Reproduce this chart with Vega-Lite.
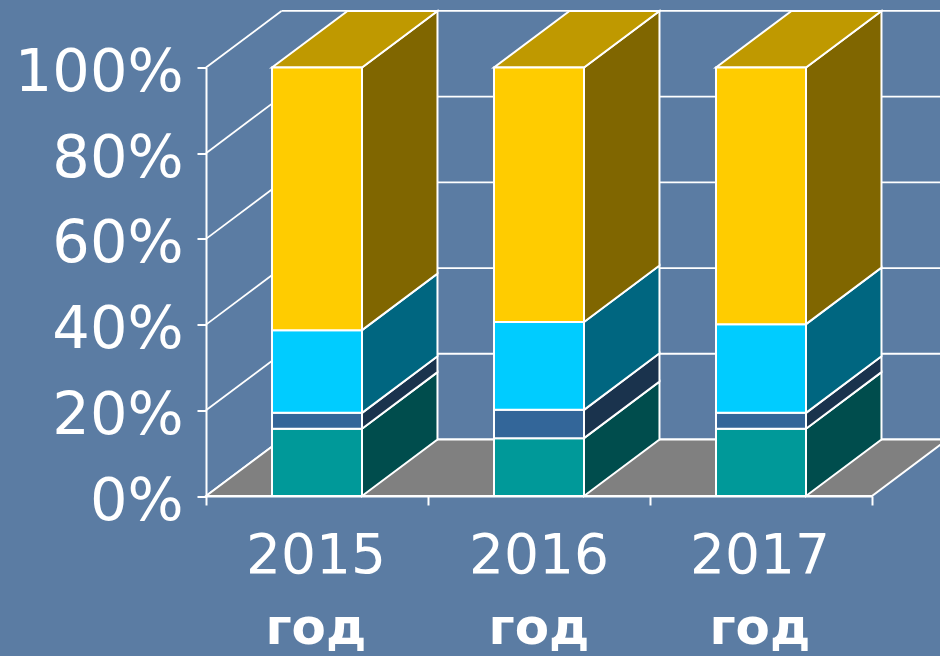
{
"$schema":"https://vega.github.io/schema/vega-lite/v6.json",
"width":666,"height":428.5,
"autosize":{"type":"none"},
"padding":{"left":206,"top":67.5,"right":68,"bottom":160},
"background":"#5b7ca3",
"view":{"stroke":null},
"config":{"font":"DejaVu Sans"},
"datasets":{
"rows":[
{"year":2015,"series":"s1","value":15.7},{"year":2015,"series":"s2","value":3.7},{"year":2015,"series":"s3","value":19.3},{"year":2015,"series":"s4","value":61.3},
{"year":2016,"series":"s1","value":13.5},{"year":2016,"series":"s2","value":6.6},{"year":2016,"series":"s3","value":20.5},{"year":2016,"series":"s4","value":59.4},
{"year":2017,"series":"s1","value":15.7},{"year":2017,"series":"s2","value":3.7},{"year":2017,"series":"s3","value":20.7},{"year":2017,"series":"s4","value":59.9}
],
"grid":[{"v":0},{"v":20},{"v":40},{"v":60},{"v":80},{"v":100}],
"depth":[{"t":0},{"t":1}],
"years":[{"year":2015,"pos":0.495},{"year":2016,"pos":1.5},{"year":2017,"pos":2.495}]
},
"resolve":{"scale":{"fill":"independent"}},
"layer":[
{"data":{"name":"grid"},
"transform":[{"calculate":"datum.v+13.2","as":"b"},{"calculate":"0.34","as":"xb"},{"calculate":"3.34","as":"xe"}],
"mark":{"type":"rule","stroke":"white","strokeWidth":1.8},
"encoding":{
"x":{"field":"xb","type":"quantitative","scale":{"domain":[0,3],"nice":false,"zero":false},"axis":{"values":[0,1,2,3],"labels":false,"title":null,"grid":false,"domainColor":"white","domainWidth":2,"tickColor":"white","tickWidth":2,"tickSize":9,"zindex":1}},
"x2":{"field":"xe"},
"y":{"field":"b","type":"quantitative","scale":{"domain":[0,100],"nice":false,"zero":false},"axis":{"values":[0,20,40,60,80,100],"labelExpr":"datum.value+'%'","title":null,"grid":false,"domainColor":"white","domainWidth":2,"tickColor":"white","tickWidth":2,"tickSize":9,"labelColor":"white","labelFontSize":59,"labelPadding":14,"labelFont":"DejaVu Sans","labelBaseline":"middle","labelOffset":5}}
}},
{"data":{"name":"grid"},
"transform":[{"calculate":"datum.v+13.2","as":"b"},{"calculate":"0","as":"xa"},{"calculate":"0.34","as":"xb"}],
"mark":{"type":"rule","stroke":"white","strokeWidth":1.8},
"encoding":{
"x":{"field":"xa","type":"quantitative"},"x2":{"field":"xb"},
"y":{"field":"v","type":"quantitative"},"y2":{"field":"b"}
}},
{"data":{"name":"depth"},
"transform":[{"calculate":"datum.t*0.34","as":"xa"},{"calculate":"3+datum.t*0.34","as":"xb"},{"calculate":"datum.t*13.2","as":"yy"}],
"mark":{"type":"area","orient":"horizontal","fill":"#808080","stroke":"white","strokeWidth":2},
"encoding":{
"x":{"field":"xa","type":"quantitative"},"x2":{"field":"xb"},
"y":{"field":"yy","type":"quantitative"}
}},
{"data":{"name":"rows"},
"transform":[
{"stack":"value","groupby":["year"],"sort":[{"field":"series","order":"ascending"}],"as":["start","end"]},
{"calculate":"[0,1]","as":"t"},{"flatten":["t"]},
{"calculate":"datum.year-2015+0.5+0.2027+datum.t*0.34","as":"xs"},
{"calculate":"datum.start+datum.t*13.2","as":"ya"},
{"calculate":"datum.end+datum.t*13.2","as":"yb"}
],
"mark":{"type":"area","orient":"vertical","stroke":"white","strokeWidth":2},
"encoding":{
"x":{"field":"xs","type":"quantitative"},
"y":{"field":"ya","type":"quantitative"},"y2":{"field":"yb"},
"detail":{"field":"year"},
"fill":{"field":"series","type":"nominal","legend":null,"scale":{"domain":["s1","s2","s3","s4"],"range":["#004d4d","#1a334d","#006680","#806600"]}}
}},
{"data":{"name":"rows"},
"transform":[
{"stack":"value","groupby":["year"],"sort":[{"field":"series","order":"ascending"}],"as":["start","end"]},
{"filter":"datum.series=='s4'"},
{"calculate":"[0,1]","as":"t"},{"flatten":["t"]},
{"calculate":"datum.year-2015+0.5-0.2027+datum.t*0.34","as":"xa"},
{"calculate":"datum.year-2015+0.5+0.2027+datum.t*0.34","as":"xb"},
{"calculate":"datum.end+datum.t*13.2","as":"yy"}
],
"mark":{"type":"area","orient":"horizontal","fill":"#bf9900","stroke":"white","strokeWidth":2},
"encoding":{
"x":{"field":"xa","type":"quantitative"},"x2":{"field":"xb"},
"y":{"field":"yy","type":"quantitative"},
"detail":{"field":"year"}
}},
{"data":{"name":"rows"},
"transform":[
{"stack":"value","groupby":["year"],"sort":[{"field":"series","order":"ascending"}],"as":["start","end"]},
{"calculate":"datum.year-2015+0.5-0.2027","as":"xa"},
{"calculate":"datum.year-2015+0.5+0.2027","as":"xb"}
],
"mark":{"type":"rect","stroke":"white","strokeWidth":2},
"encoding":{
"x":{"field":"xa","type":"quantitative"},"x2":{"field":"xb"},
"y":{"field":"start","type":"quantitative"},"y2":{"field":"end"},
"fill":{"field":"series","type":"nominal","legend":null,"scale":{"domain":["s1","s2","s3","s4"],"range":["#009999","#336699","#00ccff","#ffcc00"]}}
}},
{"data":{"name":"years"},
"mark":{"type":"text","color":"white","fontSize":55,"font":"DejaVu Sans","baseline":"middle","dy":60},
"encoding":{
"x":{"field":"pos","type":"quantitative"},
"y":{"datum":0,"type":"quantitative"},
"text":{"field":"year","type":"nominal"}
}},
{"data":{"name":"years"},
"mark":{"type":"text","color":"white","fontSize":50,"font":"DejaVu Sans","fontWeight":"bold","baseline":"middle","dy":133},
"encoding":{
"x":{"field":"pos","type":"quantitative"},
"y":{"datum":0,"type":"quantitative"},
"text":{"value":"год"}
}}
]
}
